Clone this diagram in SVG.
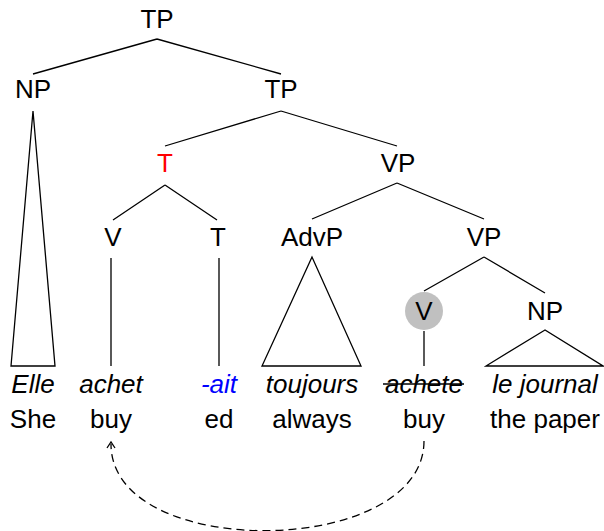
<svg xmlns="http://www.w3.org/2000/svg" width="604" height="531" viewBox="0 0 604 531">
<style>
text{font-family:"Liberation Sans",Arial,sans-serif;font-size:26px;fill:#000;text-anchor:middle}
.i{font-style:italic}
.e{stroke:#000;stroke-width:1.3;fill:none}
</style>
<rect width="604" height="531" fill="#fff"/>
<g id="connectors">
<path class="e" d="M157,39 L33,74 M157,39 L281,74"/>
<path class="e" d="M281,111 L165,146 M281,111 L397,146"/>
<path class="e" d="M33,111 L11,366 L55,366 Z"/>
<path class="e" d="M165,185 L113,220 M165,185 L217,220"/>
<path class="e" d="M397,183 L312,219 M397,183 L484,219"/>
<path class="e" d="M111,258 L111,366 M219,258 L219,366"/>
<path class="e" d="M312,257 L262,366 L361,366 Z"/>
<path class="e" d="M484,257 L424,291 M484,257 L545,293"/>
<path class="e" d="M424,331 L424,366"/>
<path class="e" d="M545,330 L486,366 L603,366 Z"/>
<path class="e" d="M424,441 C424,558 111,562 111,444" stroke-dasharray="8,5"/>
<path class="e" d="M107,448 L111,442 L115,448"/>
</g>
<g id="n-tp1"><text x="157" y="28">TP</text></g>
<g id="n-np1"><text x="33" y="98">NP</text></g>
<g id="n-tp2"><text x="281" y="98">TP</text></g>
<g id="n-t1"><text x="165" y="172" style="fill:#ff0000">T</text></g>
<g id="n-vp1"><text x="398" y="172">VP</text></g>
<g id="n-v1"><text x="113" y="246">V</text></g>
<g id="n-t2"><text x="218" y="246">T</text></g>
<g id="n-advp"><text x="312" y="246">AdvP</text></g>
<g id="n-vp2"><text x="484" y="246">VP</text></g>
<g id="n-v2"><circle cx="424" cy="311" r="19" fill="#c0c0c0"/><text x="424" y="320">V</text></g>
<g id="n-np2"><text x="545" y="320">NP</text></g>
<g id="w-elle"><text class="i" x="33" y="393">Elle</text><text x="33" y="428">She</text></g>
<g id="w-achet"><text class="i" x="111" y="393">achet</text><text x="111" y="428">buy</text></g>
<g id="w-ait"><text class="i" x="219" y="393" style="fill:#0000ff">-ait</text><text x="219" y="428">ed</text></g>
<g id="w-toujours"><text class="i" x="312" y="393">toujours</text><text x="312" y="428">always</text></g>
<g id="w-achete"><text class="i" x="424" y="393">achete</text><line x1="383" y1="384" x2="464" y2="384" stroke="#000" stroke-width="1.6"/><text x="424" y="428">buy</text></g>
<g id="w-journal"><text class="i" x="545" y="393">le journal</text><text x="545" y="428">the paper</text></g>
</svg>
